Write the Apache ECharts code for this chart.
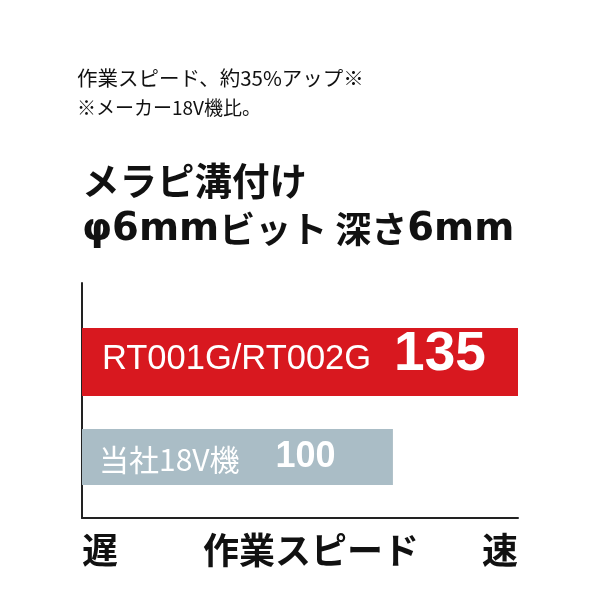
<!DOCTYPE html>
<html><head><meta charset="utf-8">
<script src="https://cdn.jsdelivr.net/npm/echarts@6/dist/echarts.min.js"></script>
<style>html,body{margin:0;padding:0;background:#fff}#c{width:600px;height:600px}</style>
</head><body><div id="c"></div>
<script>
const noteLines = ['作業スピード、約35%アップ※', '※メーカー18V機比。'];
const titleLines = ['メラピ溝付け', 'φ6mmビット 深さ6mm'];
const seriesNames = ['RT001G/RT002G', '当社18V機'];
const seriesValues = [135, 100];
const axisWords = ['遅', '作業スピード', '速'];
const category = ['作業スピード'];

const JP = '"Noto Sans CJK JP", sans-serif';
const LAT = '"Liberation Sans", Arial, sans-serif';
const WIDE = '"DejaVu Sans", sans-serif';

// wrap Latin runs so they use a wider Latin face
const latinRich = s => s.replace(/([0-9A-Za-zφ]+)/g, '{l|$1}');

const chart = echarts.init(document.getElementById('c'), null, {renderer: 'canvas'});
chart.setOption({
  animation: false,
  backgroundColor: '#fff',
  title: [
    {text: noteLines[0], left: 77, top: 68, padding: 0, textStyle: {fontFamily: JP, fontSize: 20.5, fontWeight: 'normal', color: '#111'}},
    {text: noteLines[1], left: 77, top: 98, padding: 0, textStyle: {fontFamily: JP, fontSize: 19, fontWeight: 'normal', color: '#111'}},
    {text: titleLines[0], left: 82, top: 162, padding: 0, textStyle: {fontFamily: JP, fontSize: 37.5, fontWeight: 'bold', color: '#111'}},
    {text: latinRich(titleLines[1]), left: 82, top: 210, padding: 0, textStyle: {fontFamily: JP, fontSize: 36, fontWeight: 'bold', color: '#111',
      rich: {l: {fontFamily: WIDE, fontSize: 38.5, fontWeight: 'bold', color: '#111'}}}},
    {text: axisWords[0], left: 82, top: 532, padding: 0, textStyle: {fontFamily: JP, fontSize: 36, fontWeight: 'bold', color: '#111'}},
    {text: axisWords[1], left: 311, textAlign: 'center', top: 532, padding: 0, textStyle: {fontFamily: JP, fontSize: 36, fontWeight: 'bold', color: '#111'}},
    {text: axisWords[2], right: 82, top: 532, padding: 0, textStyle: {fontFamily: JP, fontSize: 36, fontWeight: 'bold', color: '#111'}}
  ],
  grid: {left: 82, right: 82, top: 283, bottom: 82, containLabel: false},
  xAxis: {
    type: 'value', min: 13, max: 135,
    axisLine: {show: true, lineStyle: {color: '#222', width: 2}},
    axisTick: {show: false}, axisLabel: {show: false}, splitLine: {show: false}
  },
  yAxis: {
    type: 'category', data: category, inverse: true,
    axisLine: {show: true, lineStyle: {color: '#222', width: 2}},
    axisTick: {show: false}, axisLabel: {show: false}, splitLine: {show: false}
  },
  series: [
    {type: 'bar', name: 'spacer', data: ['-'], barWidth: 8, barGap: '48.5%', itemStyle: {color: 'rgba(0,0,0,0)'}, silent: true},
    {
      type: 'bar', name: seriesNames[0], data: [seriesValues[0]], barWidth: 68, barGap: '48.5%',
      itemStyle: {color: '#d8181f'},
      label: {
        show: true, position: 'insideLeft', distance: 20, offset: [0, -7],
        formatter: '{n|{a}}{v|{c}}',
        rich: {
          n: {fontFamily: LAT, fontSize: 34.5, color: '#fff', verticalAlign: 'bottom', padding: [0, 0, 5, 0]},
          v: {fontFamily: LAT, fontSize: 55, fontWeight: 'bold', color: '#fff', padding: [0, 0, 0, 23], verticalAlign: 'bottom'}
        }
      }
    },
    {
      type: 'bar', name: seriesNames[1], data: [seriesValues[1]], barWidth: 56, barGap: '48.5%',
      itemStyle: {color: '#aabdc6'},
      label: {
        show: true, position: 'insideLeft', distance: 17,
        formatter: '{n|{a}}{v|{c}}',
        rich: {
          n: {fontFamily: JP, fontSize: 30, color: '#fff', verticalAlign: 'bottom'},
          v: {fontFamily: LAT, fontSize: 36, fontWeight: 'bold', color: '#fff', padding: [0, 0, 0, 36], verticalAlign: 'bottom'}
        }
      }
    }
  ]
});
</script></body></html>
